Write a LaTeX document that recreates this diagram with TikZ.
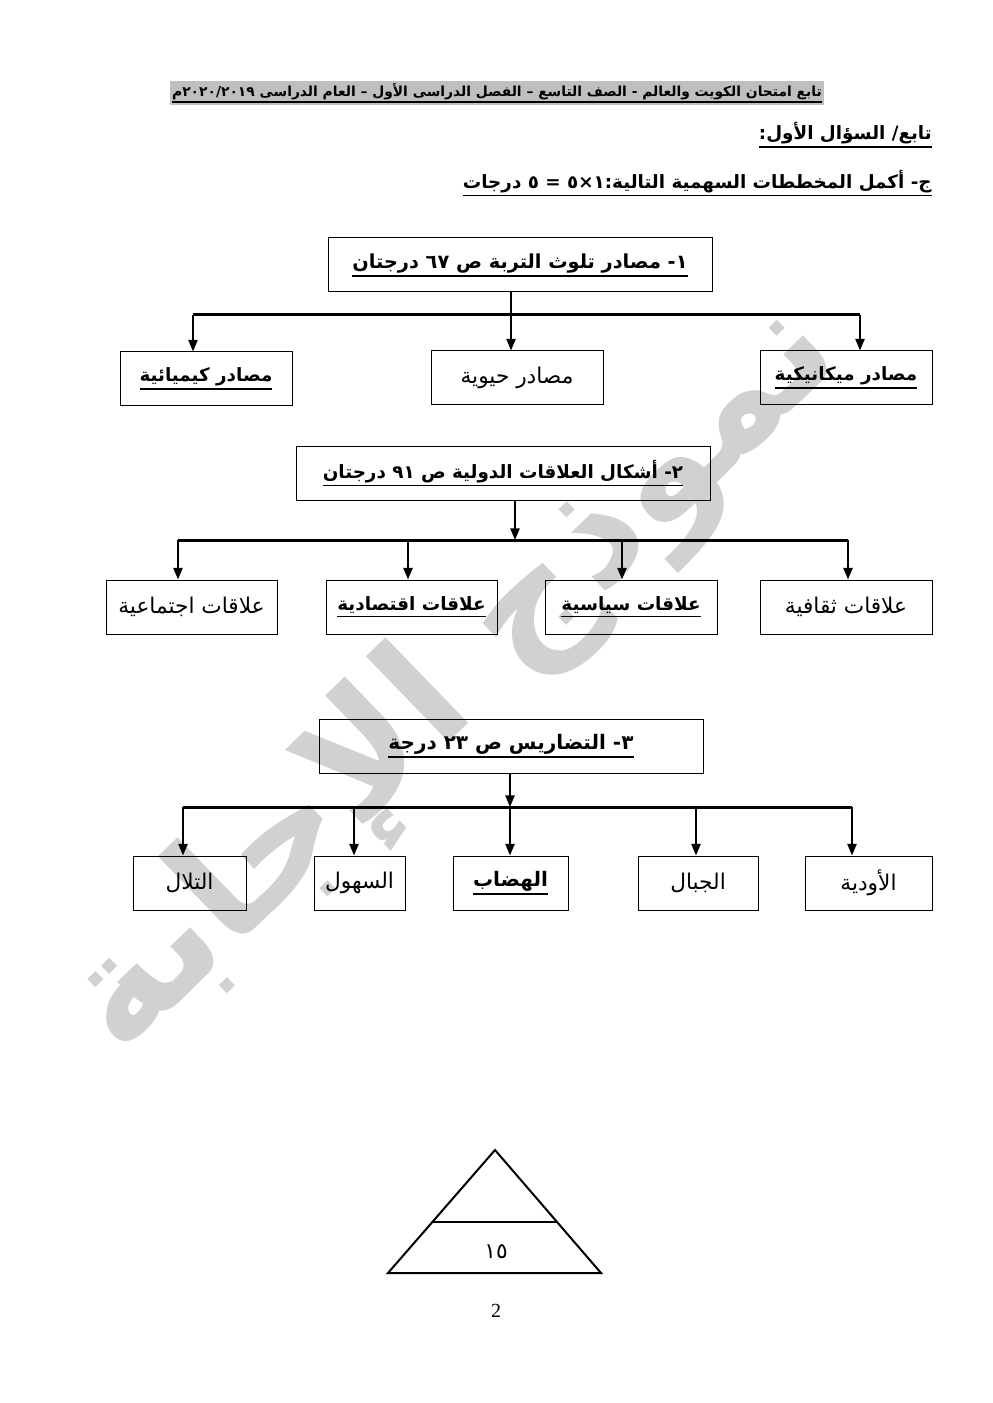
\documentclass[tikz,border=0pt]{standalone}
\usepackage{fontspec}
\setmainfont{Liberation Serif}
\newfontfamily\arabicfont[Script=Arabic]{DejaVu Sans}
\TeXXeTstate=1
\usetikzlibrary{arrows.meta}
\newcommand\ar[1]{{\fontsize{13}{15}\selectfont\arabicfont\beginR #1\endR}}
\newcommand\arb[1]{\vtop{\hbox{\arabicfont\bfseries\beginR #1\endR}\kern1.2pt\hrule height 1pt}}
\tikzset{
  box/.style={draw,line width=0.6pt,minimum height=32.4pt,inner sep=0pt,font=\fontsize{11}{13}\selectfont},
  bus/.style={line width=1.8pt},
  arr/.style={line width=1.2pt,-{Triangle[length=7pt,width=5.5pt]}},
}
\begin{document}
\begin{tikzpicture}[x=0.6pt,y=-0.6pt]
  \useasboundingbox (0,0) rectangle (992,1403);
  \node[rotate=44,text=black!18,font=\fontsize{94}{94}\selectfont] (mark) at (455,680)
    {\arabicfont\bfseries\beginR نموذج الإجابة\endR};
  \node[fill=black!25,inner sep=1pt,font=\fontsize{8.3}{9}\selectfont] (head) at (497,93)
    {\arb{تابع امتحان الكويت والعالم - الصف التاسع –  الفصل الدراسى الأول – العام الدراسى  ٢٠٢٠/٢٠١٩م}};
  \node[anchor=east,inner sep=0pt,font=\fontsize{11}{13}\selectfont] (q1) at (932,135)
    {\arb{تابع/ السؤال الأول:}};
  \node[anchor=east,inner sep=0pt,font=\fontsize{11}{13}\selectfont] (q2) at (932,183)
    {\arb{ج- أكمل المخططات السهمية التالية:١×٥ = ٥ درجات}};
  \node[box,minimum width=230.4pt,font=\fontsize{11.6}{13}\selectfont] (t1) at (520,265) {\arb{١- مصادر تلوث التربة ص ٦٧ درجتان}};
  \node[box,minimum width=103.2pt] (a1) at (206,379) {\arb{مصادر كيميائية}};
  \node[box,minimum width=103.2pt] (a2) at (517,378) {\ar{مصادر حيوية}};
  \node[box,minimum width=103.2pt] (a3) at (846,378) {\arb{مصادر ميكانيكية}};
  \node[box,minimum width=248.4pt] (t2) at (503,473) {\arb{٢- أشكال العلاقات الدولية ص ٩١ درجتان}};
  \node[box,minimum width=102.6pt] (b1) at (191.5,607) {\ar{علاقات اجتماعية}};
  \node[box,minimum width=102.6pt] (b2) at (411.5,607) {\arb{علاقات اقتصادية}};
  \node[box,minimum width=103.2pt] (b3) at (631,607) {\arb{علاقات سياسية}};
  \node[box,minimum width=103.2pt] (b4) at (846,607) {\ar{علاقات ثقافية}};
  \node[box,minimum width=230.4pt,font=\fontsize{12}{14}\selectfont] (t3) at (511,746) {\arb{٣- التضاريس  ص ٢٣ درجة}};
  \node[box,minimum width=67.8pt] (c1) at (189.5,883) {\ar{التلال}};
  \node[box,minimum width=54.6pt] (c2) at (359.5,883) {\ar{السهول}};
  \node[box,minimum width=69pt,font=\fontsize{12}{14}\selectfont] (c3) at (510.5,883) {\arb{الهضاب}};
  \node[box,minimum width=72pt] (c4) at (698,883) {\ar{الجبال}};
  \node[box,minimum width=76.2pt] (c5) at (868.5,883) {\ar{الأودية}};
  \coordinate (j1) at (511,315);
  \coordinate (l1) at (193,315);
  \coordinate (r1) at (860,315);
  \draw[bus] (l1) -- (r1);
  \draw[arr] (t1.south -| j1) -- (j1 |- a2.north);
  \draw[arr] (l1) -- (l1 |- a1.north);
  \draw[arr] (r1) -- (r1 |- a3.north);
  \coordinate (j2) at (515,540);
  \draw[arr] (t2.south -| j2) -- (j2);
  \foreach \x/\n in {178/b1,408/b2,622/b3,848/b4}{
    \coordinate (d\n) at (\x,540);
    \draw[arr] (d\n) -- (d\n |- \n.north);
  }
  \draw[bus] (db1) -- (db4);
  \coordinate (j3) at (510,807);
  \draw[arr] (t3.south -| j3) -- (j3);
  \foreach \x/\n in {183/c1,354/c2,510/c3,696/c4,852/c5}{
    \coordinate (d\n) at (\x,807);
    \draw[arr] (d\n) -- (d\n |- \n.north);
  }
  \draw[bus] (dc1) -- (dc5);
  \draw[line width=1.2pt,line join=miter] (495,1150) -- (601,1273) -- (388,1273) -- cycle;
  \draw[line width=1.2pt] (432,1222) -- (557,1222);
  \node[font=\fontsize{12}{14}\selectfont] (num) at (496,1252) {\ar{١٥}};
  \node[font=\fontsize{12}{14}\selectfont] (page) at (496,1311) {2};
\end{tikzpicture}
\end{document}
